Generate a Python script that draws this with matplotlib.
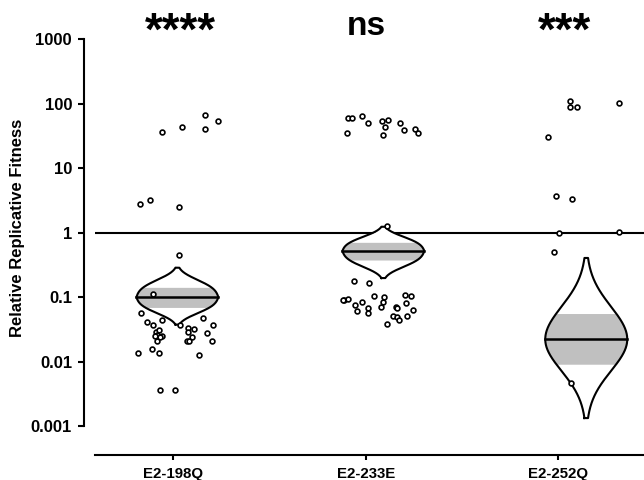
import numpy as np
import matplotlib
matplotlib.use("Agg")
import matplotlib.pyplot as plt

plt.rcParams['font.family'] = ['Liberation Sans', 'DejaVu Sans']

# ---------------- data ----------------
categories = ["E2-198Q", "E2-233E", "E2-252Q"]
significance = ["****", "ns", "***"]

# per-point fitness values and horizontal jitter (category units)
g1_values = [68, 54, 44, 41, 37, 2.8, 3.3, 2.5, 0.45, 0.113, 0.057, 0.041, 0.045,
             0.037, 0.048, 0.037, 0.037, 0.034, 0.032, 0.029, 0.031, 0.029, 0.028,
             0.026, 0.025, 0.024, 0.025, 0.024, 0.021, 0.0215, 0.021, 0.021, 0.016,
             0.014, 0.0137, 0.0129, 0.0037, 0.0037]
g1_jitter = [0.165, 0.232, 0.044, 0.166, -0.059, -0.171, -0.119, 0.031, 0.028, -0.107,
             -0.168, -0.138, -0.057, -0.104, 0.156, 0.205, 0.035, 0.076, 0.109, -0.091,
             -0.073, 0.078, 0.177, -0.086, -0.060, -0.069, -0.095, 0.096, 0.073, 0.083,
             -0.086, 0.203, -0.111, -0.182, -0.074, 0.134, -0.068, 0.007]

g2_values = [60, 60, 65, 50, 35, 55, 56, 44, 33, 51, 39, 41, 35, 1.27,
             0.178, 0.168, 0.104, 0.10, 0.11, 0.104, 0.091, 0.095, 0.09, 0.077, 0.085,
             0.084, 0.081, 0.062, 0.068, 0.057, 0.07, 0.07, 0.068, 0.063, 0.052, 0.05,
             0.044, 0.052, 0.039]
g2_jitter = [-0.092, -0.074, -0.021, 0.009, -0.100, 0.085, 0.116, 0.097, 0.090, 0.180,
             0.196, 0.256, 0.270, 0.111,
             -0.064, 0.017, 0.040, 0.092, 0.203, 0.236, -0.113, -0.095, -0.121, -0.057,
             -0.019, 0.090, 0.209, -0.048, 0.009, 0.012, 0.078, 0.156, 0.161, 0.244,
             0.140, 0.162, 0.171, 0.214, 0.109]

g3_values = [112, 89, 89, 102, 31, 3.7, 3.4, 1.0, 1.02, 0.50, 0.0047]
g3_jitter = [0.059, 0.061, 0.097, 0.314, -0.055, -0.012, 0.071, 0.004, 0.314, -0.024, 0.064]

values = [g1_values, g2_values, g3_values]
jitter = [g1_jitter, g2_jitter, g3_jitter]

# estimate distributions (violins)
violin_center = [0.101, 0.526, 0.0225]
violin_low = [0.038, 0.200, 0.00135]
violin_high = [0.29, 1.25, 0.41]
band_low = [0.070, 0.381, 0.0092]
band_high = [0.144, 0.718, 0.0569]

# ---------------- style ----------------
violin_offset = [0.021, 0.091, 0.145]
violin_halfwidth = 0.213
violin_shape = ["lens", "lens", "gauss"]
sig_offset = [0.035, 0.0, 0.03]

fig = plt.figure(figsize=(6.44, 4.8), dpi=100)
ax = fig.add_axes([95 / 644, 1 - 455 / 480, 1 - 95 / 644, 455 / 480])
ax.set_yscale('log')
ax.set_xlim(-0.407, 2.445)
ax.set_ylim(10 ** -3.442, 10 ** 3.612)

ax.axhline(1, color='black', lw=1.5, zorder=2)

for i in range(3):
    xc = i + violin_offset[i]
    c = np.log10(violin_center[i])
    up = np.log10(violin_high[i]) - c
    dn = c - np.log10(violin_low[i])
    t = np.linspace(-1, 1, 601)
    if violin_shape[i] == "gauss":
        w = np.exp(-3.125 * t ** 2)
    else:
        w = np.exp(-0.25 * np.abs(t) - 2.8 * np.abs(t) ** 3)
    ylog = np.where(t >= 0, c + t * up, c + t * dn)
    yy = 10 ** ylog
    half = violin_halfwidth * w
    ax.fill_betweenx(yy, xc - half, xc + half, color='white', zorder=3, lw=0)
    m = (yy >= band_low[i]) & (yy <= band_high[i])
    ax.fill_betweenx(yy[m], xc - half[m], xc + half[m], color='#c0c0c0', zorder=3.5, lw=0)
    ax.plot(np.concatenate([xc - half, (xc + half)[::-1], [xc - half[0]]]),
            np.concatenate([yy, yy[::-1], [yy[0]]]), color='black', lw=1.5, zorder=4)
    ax.plot([xc - violin_halfwidth, xc + violin_halfwidth],
            [violin_center[i], violin_center[i]], color='black', lw=1.8, zorder=4)

    xs = i + np.array(jitter[i])
    ax.scatter(xs, values[i], s=12, facecolor='white', edgecolor='black', lw=1.2, zorder=5)

# axes styling
for s in ['top', 'right']:
    ax.spines[s].set_visible(False)
ax.spines['left'].set_position(('outward', 8))
ax.spines['left'].set_bounds(0.001, 1000)
ax.spines['left'].set_linewidth(1.5)
ax.spines['bottom'].set_linewidth(1.5)

ax.set_yticks([0.001, 0.01, 0.1, 1, 10, 100, 1000])
ax.set_yticklabels(["0.001", "0.01", "0.1", "1", "10", "100", "1000"])
ax.yaxis.set_minor_locator(matplotlib.ticker.NullLocator())
ax.tick_params(axis='y', length=4.5, width=1.5, pad=4, labelsize=12)
ax.set_xticks([0, 1, 2])
ax.set_xticklabels(categories)
ax.tick_params(axis='x', length=3.5, width=1.5, pad=5, labelsize=10.8)
for lab in ax.get_xticklabels() + ax.get_yticklabels():
    lab.set_fontweight('bold')

fig.text(17.5 / 644, 1 - 228 / 480, "Relative Replicative Fitness", rotation=90,
         ha='center', va='center', fontsize=12, fontweight='bold')

for i, s in enumerate(significance):
    if s == "ns":
        ax.text(i + sig_offset[i], 10 ** ((233 - 35) / 64.5), s, ha='center', va='baseline',
                fontsize=24, fontweight='bold')
    else:
        ax.text(i + sig_offset[i], 10 ** ((233 - 45) / 64.5), s, ha='center', va='baseline',
                fontsize=33, fontweight='bold')

fig.savefig("out.png", dpi=100)
